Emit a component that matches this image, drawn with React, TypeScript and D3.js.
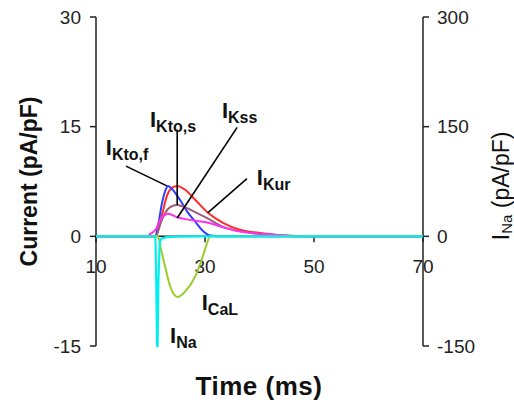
import React from "react";
import * as d3 from "d3";

// Membrane currents during a voltage step (time in ms, current in pA/pF)
const xTicks = [10, 30, 50, 70];
const leftTicks = [-15, 0, 15, 30];
const rightTicks = [-150, 0, 150, 300];

const tKur = [10, 20.5, 20.8, 21.7, 22.3, 23.0, 23.9, 24.9, 26.3, 28.2, 30.6, 33.3, 36.4, 41.4, 45.6, 50, 70];
const iKur = [0, 0, 0, 1.5, 3.5, 5.5, 6.6, 6.9, 6.4, 5.0, 3.2, 1.85, 0.9, 0.35, 0.05, 0, 0];

const tKtof = [10, 20.6, 20.9, 21.4, 22.1, 22.7, 23.2, 23.9, 25.4, 26.9, 28.2, 29.4, 30.6, 31.8, 33, 70];
const iKtof = [0, 0, 0, 1.5, 4.5, 6.2, 6.9, 6.5, 5.0, 3.2, 2.0, 0.9, 0.2, 0.05, 0, 0];

const tKtos = [10, 20.9, 21.2, 21.7, 22.7, 23.6, 24.9, 26.3, 28.2, 30.4, 33.3, 38.3, 43.8, 47, 70];
const iKtos = [0, 0, 0.3, 1.5, 3.2, 4.0, 4.3, 4.0, 3.3, 2.5, 1.3, 0.5, 0.1, 0, 0];

const tKss = [10, 19.4, 19.9, 20.5, 21.1, 21.7, 22.6, 23.2, 24.9, 27.2, 30.4, 33.3, 36.4, 41.4, 46.9, 49, 70];
const iKss = [0, 0, 0.3, 0.6, 1.1, 2.2, 2.9, 3.1, 2.6, 2.25, 1.9, 1.25, 0.65, 0.3, 0.05, 0, 0];

const tCaL = [10, 21.2, 21.4, 21.7, 22.7, 23.6, 25.0, 26.3, 28.2, 29.4, 30.4, 30.9, 70];
const iCaL = [0, 0, 0, -1.0, -4.2, -6.8, -8.3, -7.6, -5.5, -3.2, -0.9, 0, 0];

// INa is read against the right-hand axis
const tNa = [10, 20.9, 21.05, 21.2, 21.3, 21.45, 21.7, 22.0, 23.0, 25.0, 30.0, 70];
const iNa = [0, 0, -60, -150, -150, -60, -8, -3, -1, -0.3, 0, 0];

const currents = [
  { name: "Kur", t: tKur, v: iKur, color: "#ff2a2a" },
  { name: "Kto,f", t: tKtof, v: iKtof, color: "#2f3cff" },
  { name: "Kto,s", t: tKtos, v: iKtos, color: "#a05a7e" },
  { name: "Kss", t: tKss, v: iKss, color: "#ff30ee" },
  { name: "CaL", t: tCaL, v: iCaL, color: "#9ccc2c" },
];

// Trace labels: text anchor and leader line (from, to) in data units
const labels = [
  { sub: "Kto,f", t: 11.8, v: 11.1, line: [[15.5, 9.6], [23.0, 6.9]] },
  { sub: "Kto,s", t: 19.9, v: 14.95, line: [[24.9, 14.6], [24.9, 4.3]] },
  { sub: "Kss", t: 33.1, v: 16.2, line: [[35.9, 14.9], [24.9, 2.5]] },
  { sub: "Kur", t: 39.5, v: 7.0, line: [[37.7, 7.9], [30.5, 3.2]] },
  { sub: "CaL", t: 29.4, v: -10.1, line: null },
  { sub: "Na", t: 23.6, v: -14.6, line: null },
];

const W = 514;
const H = 405;
const x = d3.scaleLinear().domain([10, 70]).range([96, 423]);
const y = d3.scaleLinear().domain([-15, 30]).range([346, 17]);
const yR = d3.scaleLinear().domain([-150, 300]).range([346, 17]);

const FONT = "'Liberation Sans', Arial, sans-serif";
const AX = "#222";

export default function App() {
  const line = (t: number[], v: number[], ys: d3.ScaleLinear<number, number>, curve: d3.CurveFactory) =>
    d3
      .line<number>()
      .x((_, i) => x(t[i]))
      .y((d) => ys(d))
      .curve(curve)(v) as string;

  return (
    <svg
      width={W}
      height={H}
      style={{ position: "absolute", left: 0, top: 0, background: "#fff" }}
      fontFamily={FONT}
    >
      {/* x axis */}
      <line x1={x(10)} x2={x(70)} y1={y(0)} y2={y(0)} stroke={AX} strokeWidth={1.5} />
      {xTicks.map((d) => (
        <g key={"xt" + d}>
          <line x1={x(d)} x2={x(d)} y1={y(0)} y2={y(0) + 6} stroke={AX} strokeWidth={1.5} />
          <text x={x(d)} y={273} textAnchor="middle" fontSize={19} fill="#222">
            {d}
          </text>
        </g>
      ))}

      {/* left axis */}
      <line x1={x(10)} x2={x(10)} y1={y(30)} y2={y(-15)} stroke={AX} strokeWidth={1.5} />
      {leftTicks.map((d) => (
        <g key={"lt" + d}>
          <line x1={x(10) - 6} x2={x(10)} y1={y(d)} y2={y(d)} stroke={AX} strokeWidth={1.5} />
          <text x={81} y={y(d)} dy="0.35em" textAnchor="end" fontSize={19} fill="#222">
            {d}
          </text>
        </g>
      ))}

      {/* right axis */}
      <line x1={x(70)} x2={x(70)} y1={yR(300)} y2={yR(-150)} stroke={AX} strokeWidth={1.5} />
      {rightTicks.map((d) => (
        <g key={"rt" + d}>
          <line x1={x(70)} x2={x(70) + 6} y1={yR(d)} y2={yR(d)} stroke={AX} strokeWidth={1.5} />
          <text x={437} y={yR(d)} dy="0.35em" textAnchor="start" fontSize={19} fill="#222">
            {d}
          </text>
        </g>
      ))}

      {/* current traces */}
      {currents.map((c) => (
        <path
          key={c.name}
          d={line(c.t, c.v, y, d3.curveMonotoneX)}
          fill="none"
          stroke={c.color}
          strokeWidth={2}
        />
      ))}
      <path d={line(tNa, iNa, yR, d3.curveLinear)} fill="none" stroke="#00f0f0" strokeWidth={2.2} />

      {/* trace labels */}
      {labels.map((l) => (
        <g key={l.sub}>
          {l.line && (
            <line
              x1={x(l.line[0][0])}
              y1={y(l.line[0][1])}
              x2={x(l.line[1][0])}
              y2={y(l.line[1][1])}
              stroke="#000"
              strokeWidth={1.6}
            />
          )}
          <text x={x(l.t)} y={y(l.v)} fontSize={22} fontWeight="bold" fill="#111">
            I
            <tspan fontSize={16} dy={5}>
              {l.sub}
            </tspan>
          </text>
        </g>
      ))}

      {/* axis titles */}
      <text x={259} y={395} textAnchor="middle" fontSize={26} fontWeight="bold" letterSpacing={0.5} fill="#111">
        Time (ms)
      </text>
      <text
        transform={`translate(37,${y(7.5)}) rotate(-90)`}
        textAnchor="middle"
        fontSize={23}
        fontWeight="bold"
        fill="#111"
      >
        Current (pA/pF)
      </text>
      <text
        transform={`translate(509,${y(6.9)}) rotate(-90)`}
        textAnchor="middle"
        fontSize={23}
        fill="#111"
      >
        I
        <tspan fontSize={15} dy={3}>
          Na
        </tspan>
        <tspan dy={-3}> (pA/pF)</tspan>
      </text>
    </svg>
  );
}
